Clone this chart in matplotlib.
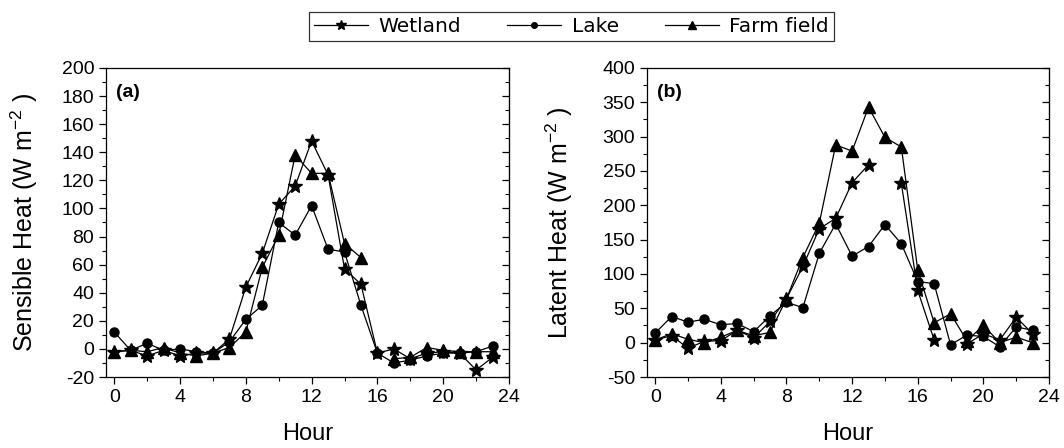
import numpy as np
import matplotlib
matplotlib.use("Agg")
import matplotlib.pyplot as plt
from matplotlib.lines import Line2D
from matplotlib.ticker import MultipleLocator

nan = np.nan
hours = list(range(24))

# Panel (a): Sensible heat (W m-2)
sh_wetland = [-2, -1, -5, -1, -5, -3, -3, 7, 44, 68, 103, 116, 148, 124, 57, 46,
              -3, 0, -7, -3, -2, -3, -15, -6]
sh_lake = [12, -1, 4, -1, 0, -2, -3, 5, 21, 31, 90, 81, 102, 71, 69, 31,
           -3, -10, -8, -5, -3, -3, -2, 2]
sh_farm = [-2, -1, -2, 1, -3, -5, -3, 1, 12, 58, 81, 138, 125, 125, 75, 65,
           nan, -7, -6, 1, -1, -2, -2, -2]

# Panel (b): Latent heat (W m-2)
lh_wetland = [4, 10, -8, 2, 3, 18, 7, 31, 64, 111, 166, 181, 233, 259, nan, 232,
              76, 4, nan, -2, 13, 4, 37, 13]
lh_lake = [14, 38, 30, 34, 26, 28, 16, 39, 59, 51, 130, 173, 126, 140, 172, 144,
           89, 86, -3, 11, 9, -6, 23, 18]
lh_farm = [4, 13, 5, 0, 8, 18, 10, 15, 64, 124, 174, 288, 279, 343, 299, 285,
           106, 29, 42, 3, 25, 0, 8, 0]

series_names = ["Wetland", "Lake", "Farm field"]
markers = ["*", "o", "^"]
msizes = [10.5, 6.5, 8.5]

plt.rcParams["font.family"] = ["Liberation Sans", "DejaVu Sans"]
plt.rcParams["mathtext.fontset"] = "custom"
plt.rcParams["mathtext.rm"] = "Liberation Sans"
plt.rcParams["mathtext.it"] = "Liberation Sans"
plt.rcParams["axes.unicode_minus"] = False

fig = plt.figure(figsize=(10.64, 4.48), dpi=100)
ax_a = fig.add_axes([106 / 1064, 1 - 377 / 448, 403 / 1064, 309 / 448])
ax_b = fig.add_axes([647 / 1064, 1 - 377 / 448, 402 / 1064, 309 / 448])

panels = [
    (ax_a, [sh_wetland, sh_lake, sh_farm], (-20, 200), 10, 20,
     "Sensible Heat (W m$^{-2}$ )", "(a)", -0.165),
    (ax_b, [lh_wetland, lh_lake, lh_farm], (-50, 400), 25, 50,
     "Latent Heat (W m$^{-2}$ )", "(b)", -0.178),
]

for ax, data, ylim, yminor, ymajor, ylabel, tag, lx in panels:
    for vals, m, ms in zip(data, markers, msizes):
        ax.plot(hours, vals, color="black", lw=0.9, marker=m, ms=ms,
                markerfacecolor="black", markeredgecolor="black")
    ax.set_xlim(-0.5, 24)
    ax.set_ylim(*ylim)
    ax.xaxis.set_major_locator(MultipleLocator(4))
    ax.xaxis.set_minor_locator(MultipleLocator(2))
    ax.yaxis.set_major_locator(MultipleLocator(ymajor))
    ax.yaxis.set_minor_locator(MultipleLocator(yminor))
    ax.tick_params(axis="both", which="major", direction="out", length=5,
                   width=0.9, labelsize=14, top=False, right=False)
    ax.tick_params(axis="both", which="minor", direction="out", length=3,
                   width=0.8, top=False, right=False)
    for sp in ax.spines.values():
        sp.set_linewidth(0.9)
    axr = ax.secondary_yaxis("right")
    axr.yaxis.set_major_locator(MultipleLocator(ymajor))
    axr.yaxis.set_minor_locator(MultipleLocator(yminor))
    axr.tick_params(which="major", direction="in", length=5, width=0.9, labelright=False)
    axr.tick_params(which="minor", direction="in", length=3, width=0.8, labelright=False)
    ax.set_ylabel(ylabel, fontsize=18)
    ax.yaxis.set_label_coords(lx, 0.5)
    ax.set_xlabel("Hour", fontsize=17)
    ax.xaxis.set_label_coords(0.5, -0.15)
    ax.text(0.025, 0.92, tag, transform=ax.transAxes, fontsize=14,
            fontweight="bold", ha="left", va="center")

handles = [Line2D([0], [0], color="black", lw=0.9, marker=m, ms=s,
                  markerfacecolor="black", markeredgecolor="black")
           for m, s in zip(markers, [7, 4, 6])]
leg = fig.legend(handles, series_names, loc="center", ncol=3,
                 bbox_to_anchor=(0.537, 0.94), frameon=True, fancybox=False,
                 edgecolor="black", handlelength=2.7, handletextpad=0.5,
                 columnspacing=2.3, borderpad=0.25,
                 prop={"family": "DejaVu Sans", "size": 14.5})
leg.get_frame().set_linewidth(0.9)

fig.savefig("out.png", dpi=100)
